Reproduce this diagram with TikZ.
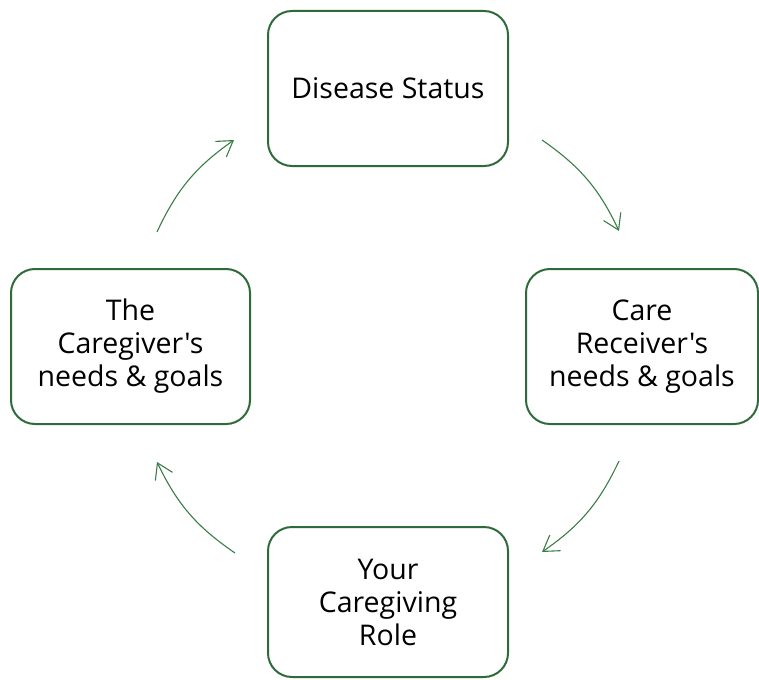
\documentclass[tikz,border=0pt]{standalone}
\usepackage{fontspec}
\setmainfont{Open Sans}[Ligatures=TeXOff]
\usetikzlibrary{arrows.meta}
\definecolor{boxgreen}{RGB}{47,107,58}
\definecolor{arrgreen}{RGB}{58,125,70}
\begin{document}
\begin{tikzpicture}[x=1pt,y=-1pt,
  stagebox/.style={draw=boxgreen, line width=2pt, rounded corners=24pt, align=center,
    inner sep=0pt, font=\fontsize{28.5}{33}\selectfont, text=black},
  cyclearrow/.style={draw=arrgreen, line width=1.1pt, -{Straight Barb[length=15pt,width=19pt]}}]
\useasboundingbox (0,0) rectangle (759,679);
\node[stagebox, minimum width=240pt, minimum height=155pt] (top) at (388,88.5) {Disease Status};
\node[stagebox, minimum width=239pt, minimum height=155pt] (left) at (130.5,346.5) {The\\Caregiver's\\needs \& goals};
\node[stagebox, minimum width=232pt, minimum height=155pt] (right) at (642,346.5) {Care\\Receiver's\\needs \& goals};
\node[stagebox, minimum width=240pt, minimum height=150pt] (bottom) at (388,602) {Your\\Caregiving\\Role};
\coordinate (a1s) at (542,140); \coordinate (a1e) at (619,231);
\coordinate (a2s) at (619,461); \coordinate (a2e) at (542,552);
\coordinate (a3s) at (235,553); \coordinate (a3e) at (157,462);
\coordinate (a4s) at (157,232); \coordinate (a4e) at (234,140);
\draw[cyclearrow] (a1s) to[bend left=15] (a1e);
\draw[cyclearrow] (a2s) to[bend left=15] (a2e);
\draw[cyclearrow] (a3s) to[bend left=15] (a3e);
\draw[cyclearrow] (a4s) to[bend left=15] (a4e);
\end{tikzpicture}
\end{document}
